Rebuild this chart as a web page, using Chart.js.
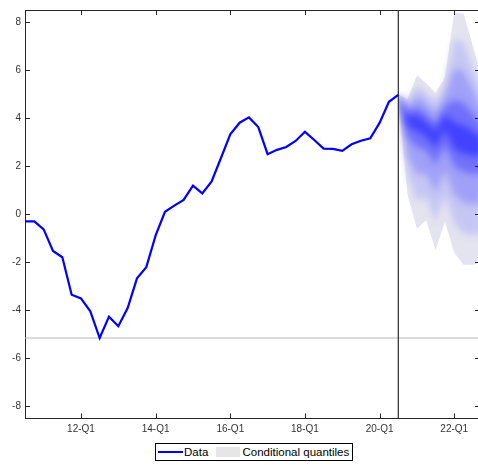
<!DOCTYPE html>
<html><head><meta charset="utf-8">
<script src="https://cdn.jsdelivr.net/npm/chart.js@4/dist/chart.umd.min.js"></script>
<style>
html,body{margin:0;padding:0;background:#fff;overflow:hidden;width:478px;height:465px;}
#wrap{position:relative;width:482px;height:465px;}
canvas{display:block;}
#legend{position:absolute;left:155px;top:442.5px;width:198px;height:18px;border:1px solid #000;box-sizing:border-box;background:#fff;font-family:"Liberation Sans",Arial,sans-serif;font-size:11.5px;color:#000;}
#legend .ln{position:absolute;left:2px;top:7.5px;width:25px;height:2px;background:#0000ff;}
#legend .t1{position:absolute;left:28px;top:1px;line-height:15px;}
#legend .bx{position:absolute;left:60px;top:3.5px;width:24px;height:10px;background:#e6e6e6;}
#legend .t2{position:absolute;left:86.5px;top:1px;line-height:15px;}
</style></head>
<body>
<div id="wrap">
<canvas id="c" width="482" height="465"></canvas>
<div id="legend"><span class="ln"></span><span class="t1">Data</span><span class="bx"></span><span class="t2">Conditional quantiles</span></div>
</div>
<script>
// ---- categories (quarters), index 0 = 10-Q3 ----
const quarters = ['10-Q3','10-Q4',
 '11-Q1','11-Q2','11-Q3','11-Q4','12-Q1','12-Q2','12-Q3','12-Q4',
 '13-Q1','13-Q2','13-Q3','13-Q4','14-Q1','14-Q2','14-Q3','14-Q4',
 '15-Q1','15-Q2','15-Q3','15-Q4','16-Q1','16-Q2','16-Q3','16-Q4',
 '17-Q1','17-Q2','17-Q3','17-Q4','18-Q1','18-Q2','18-Q3','18-Q4',
 '19-Q1','19-Q2','19-Q3','19-Q4','20-Q1','20-Q2','20-Q3','20-Q4',
 '21-Q1','21-Q2','21-Q3','21-Q4','22-Q1','22-Q2','22-Q3','22-Q4'];
const xTickLabels = ['12-Q1','14-Q1','16-Q1','18-Q1','20-Q1','22-Q1'];
const yTickValues = [-8,-6,-4,-2,0,2,4,6,8];

// ---- observed data (10-Q3 .. 20-Q3) ----
const dataValues = [-0.3,-0.3,-0.63,-1.53,-1.79,-3.35,-3.5,-4.04,-5.15,-4.26,
 -4.66,-3.9,-2.67,-2.2,-0.88,0.1,0.36,0.6,1.19,0.87,
 1.37,2.34,3.33,3.81,4.03,3.63,2.5,2.68,2.8,3.05,
 3.43,3.09,2.73,2.72,2.64,2.91,3.06,3.16,3.8,4.68,4.97];
const forecastStart = '20-Q3';
const refLevel = -5.15;

// ---- conditional quantiles (20-Q3 .. 22-Q4), outer to inner ----
const fanQuarters = quarters.slice(40);
const qUpper1 = [4.97,4.8,5.78,5.45,5.05,5.7,8.4,8.35,7.0,5.6];
const qUpper2 = [4.97,4.62,5.37,5.05,4.65,5.32,7.26,7.18,6.11,5.01];
const qUpper3 = [4.97,4.43,4.94,4.63,4.24,4.91,6.06,5.97,5.18,4.39];
const qUpper4 = [4.97,4.23,4.48,4.18,3.79,4.48,4.76,4.64,4.17,3.71];
const qUpper5 = [4.97,4.08,4.14,3.85,3.47,4.16,3.82,3.69,3.44,3.22];
const qLower5 = [4.97,3.66,3.47,3.24,2.77,3.52,2.72,2.53,2.45,2.41];
const qLower4 = [4.97,3.18,2.79,2.66,2.06,2.89,2.0,1.76,1.69,1.67];
const qLower3 = [4.97,2.39,1.66,1.69,0.87,1.82,0.8,0.47,0.42,0.45];
const qLower2 = [4.97,1.59,0.53,0.72,-0.31,0.76,-0.4,-0.81,-0.84,-0.78];
const qLower1 = [4.97,0.8,-0.6,-0.25,-1.5,-0.3,-1.6,-2.1,-2.1,-2.0];

const X_MIN = 0, X_MAX = 48.76, Y_MIN = -8.5, Y_MAX = 8.5;
const qi = q => quarters.indexOf(q);
const series = arr => arr.map((v,i)=>({x:i,y:v}));
const fanSeries = arr => arr.map((v,i)=>({x:qi(fanQuarters[i]),y:v}));
const xTickIdx = xTickLabels.map(qi);

function bandSet(upper, lower, color, order, idx){
  return [
    {data:fanSeries(upper), borderWidth:0, pointRadius:0, fill:idx+1, backgroundColor:color, order:order, tension:0},
    {data:fanSeries(lower), borderWidth:0, pointRadius:0, fill:false, order:order, tension:0}
  ];
}

const datasets = [
  {data:series(dataValues), borderColor:'#0000ff', borderWidth:2.2, pointRadius:0, fill:false, order:0, borderJoinStyle:'miter'},
  {data:[{x:qi(forecastStart),y:Y_MIN},{x:qi(forecastStart),y:Y_MAX}], borderColor:'#000', borderWidth:1, pointRadius:0, fill:false, order:1},
  {data:[{x:X_MIN,y:refLevel},{x:X_MAX,y:refLevel}], borderColor:'#b8b8b8', borderWidth:1, pointRadius:0, fill:false, order:1},
];
const INNER_LAST = datasets.length;
datasets.push(...bandSet(qUpper5,qLower5,'#4242ff',2,datasets.length));
datasets.push(...bandSet(qUpper4,qLower4,'#7070fc',3,datasets.length));
datasets.push(...bandSet(qUpper3,qLower3,'#a0a0f8',4,datasets.length));
datasets.push(...bandSet(qUpper2,qLower2,'#c6c6f4',5,datasets.length));
const OUTER = datasets.length;
datasets.push(...bandSet(qUpper1,qLower1,'#e4e4f0',6,datasets.length));

// soften the transitions between the inner quantile bands
const softBands = {
  id:'softBands',
  beforeDatasetsDraw(chart){ chart.ctx.filter = 'none'; },
  afterDatasetDraw(chart, args){
    if (args.index === OUTER) chart.ctx.filter = 'blur(3.5px)';
    if (args.index === INNER_LAST) chart.ctx.filter = 'none';
  },
  afterDatasetsDraw(chart){ chart.ctx.filter = 'none'; }
};

const AX = '#262626';
const innerTicks = {
  id:'innerTicks',
  afterDraw(chart){
    const {ctx, chartArea:a, scales:{x,y}} = chart;
    ctx.save();
    ctx.filter = 'none';
    ctx.strokeStyle = AX; ctx.lineWidth = 1;
    ctx.beginPath();
    ctx.moveTo(a.left, a.top+0.5); ctx.lineTo(a.right, a.top+0.5);
    ctx.moveTo(a.right-0.5, a.top); ctx.lineTo(a.right-0.5, a.bottom);
    yTickValues.forEach(v=>{
      const py = Math.round(y.getPixelForValue(v))+0.5;
      ctx.moveTo(a.left, py); ctx.lineTo(a.left+5, py);
      ctx.moveTo(a.right, py); ctx.lineTo(a.right-5, py);
    });
    xTickIdx.forEach(v=>{
      const px = Math.round(x.getPixelForValue(v))+0.5;
      ctx.moveTo(px, a.bottom); ctx.lineTo(px, a.bottom-5);
      ctx.moveTo(px, a.top); ctx.lineTo(px, a.top+5);
    });
    ctx.stroke();
    ctx.restore();
  }
};

new Chart(document.getElementById('c'), {
  type:'line',
  data:{datasets},
  options:{
    responsive:false, animation:false, devicePixelRatio:1,
    layout:{padding:{top:5,right:2,bottom:26.5,left:0}},
    plugins:{legend:{display:false}, tooltip:{enabled:false}},
    elements:{line:{tension:0}},
    scales:{
      x:{type:'linear', min:X_MIN, max:X_MAX,
        afterBuildTicks:s=>{s.ticks = xTickIdx.map(v=>({value:v}));},
        afterFit:s=>{s.height = 20;},
        grid:{display:false, drawTicks:false, tickLength:0}, border:{display:true,color:AX,width:1},
        ticks:{autoSkip:false, maxRotation:0, padding:5, color:'#333',
          font:{family:'"Liberation Sans", Arial, sans-serif', size:10},
          callback:v=>quarters[v]}
      },
      y:{type:'linear', min:Y_MIN, max:Y_MAX,
        afterBuildTicks:s=>{s.ticks = yTickValues.map(v=>({value:v}));},
        afterFit:s=>{s.width = 25;},
        grid:{display:false, drawTicks:false, tickLength:0}, border:{display:true,color:AX,width:1},
        ticks:{padding:4, color:'#333',
          font:{family:'"Liberation Sans", Arial, sans-serif', size:10}}
      }
    }
  },
  plugins:[softBands, innerTicks]
});
</script>
</body></html>
